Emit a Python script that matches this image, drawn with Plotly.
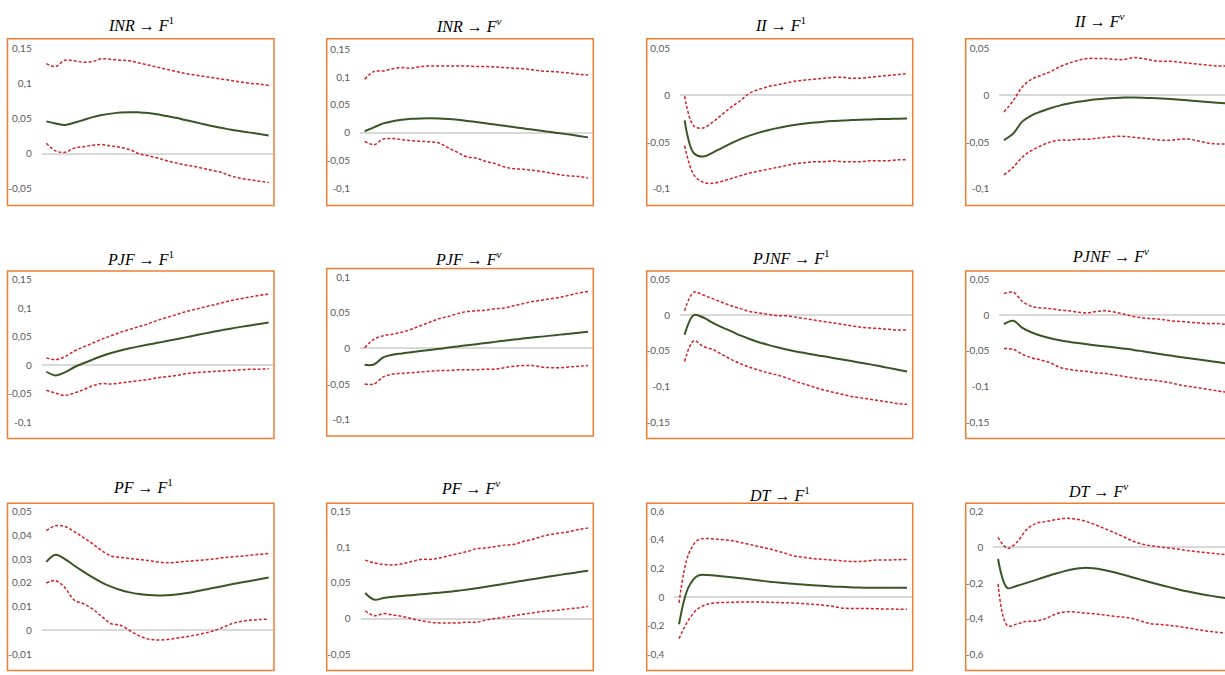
import plotly.graph_objects as go

W, H = 1225, 675
PERIODS = list(range(25))

# ---------------- data ----------------
INR_F1_MID = [0.046, 0.043, 0.041, 0.044, 0.048, 0.052, 0.055, 0.057, 0.0585, 0.059, 0.0588, 0.058, 0.056,
              0.0535, 0.051, 0.048, 0.045, 0.042, 0.039, 0.0365, 0.034, 0.032, 0.030, 0.028, 0.026]
INR_F1_UP = [0.128, 0.124, 0.133, 0.132, 0.130, 0.131, 0.135, 0.134, 0.133, 0.132, 0.129, 0.126, 0.123,
             0.120, 0.117, 0.114, 0.112, 0.110, 0.108, 0.106, 0.104, 0.102, 0.100, 0.099, 0.097]
INR_F1_LO = [0.015, 0.004, 0.002, 0.008, 0.010, 0.012, 0.013, 0.011, 0.009, 0.006, 0.000, -0.003, -0.006,
             -0.010, -0.013, -0.016, -0.018, -0.021, -0.024, -0.027, -0.032, -0.035, -0.037, -0.039, -0.041]

INR_FV_MID = [0.003, 0.010, 0.017, 0.021, 0.0235, 0.0252, 0.026, 0.0263, 0.026, 0.025, 0.0235, 0.0215, 0.0195,
              0.0173, 0.015, 0.0128, 0.0105, 0.0082, 0.006, 0.0038, 0.0015, -0.0007, -0.003, -0.0055, -0.008]
INR_FV_UP = [0.096, 0.110, 0.111, 0.115, 0.117, 0.116, 0.119, 0.120, 0.120, 0.120, 0.120, 0.120, 0.119,
             0.119, 0.118, 0.117, 0.116, 0.115, 0.113, 0.111, 0.110, 0.109, 0.107, 0.105, 0.104]
INR_FV_LO = [-0.015, -0.021, -0.011, -0.010, -0.012, -0.014, -0.015, -0.016, -0.018, -0.027, -0.035, -0.043,
             -0.045, -0.051, -0.055, -0.061, -0.064, -0.065, -0.067, -0.069, -0.072, -0.075, -0.077, -0.078, -0.081]

II_F1_MID = [-0.027, -0.062, -0.0655, -0.0615, -0.0565, -0.0515, -0.047, -0.0432, -0.040, -0.0374, -0.0352,
             -0.0333, -0.0317, -0.0303, -0.0292, -0.0283, -0.0276, -0.027, -0.0266, -0.0262, -0.0259, -0.0256,
             -0.0254, -0.0252, -0.025]
II_F1_UP = [-0.001, -0.033, -0.035, -0.029, -0.021, -0.013, -0.006, 0.002, 0.006, 0.009, 0.011, 0.013, 0.015,
            0.016, 0.017, 0.018, 0.019, 0.019, 0.018, 0.018, 0.019, 0.020, 0.021, 0.022, 0.023]
II_F1_LO = [-0.054, -0.085, -0.093, -0.094, -0.092, -0.089, -0.086, -0.083, -0.081, -0.079, -0.077, -0.075,
            -0.073, -0.072, -0.071, -0.071, -0.070, -0.071, -0.071, -0.071, -0.070, -0.070, -0.070, -0.069, -0.069]

II_FV_MID = [-0.048, -0.041, -0.028, -0.0215, -0.0175, -0.014, -0.0112, -0.009, -0.0072, -0.0057, -0.0045,
             -0.0036, -0.003, -0.0026, -0.0025, -0.0027, -0.0031, -0.0036, -0.0042, -0.0049, -0.0057, -0.0065,
             -0.0073, -0.0081, -0.0088]
II_FV_UP = [-0.018, -0.006, 0.009, 0.017, 0.021, 0.025, 0.030, 0.034, 0.037, 0.039, 0.039, 0.039, 0.038,
            0.038, 0.040, 0.039, 0.037, 0.036, 0.036, 0.035, 0.034, 0.033, 0.032, 0.031, 0.031]
II_FV_LO = [-0.085, -0.077, -0.066, -0.059, -0.054, -0.050, -0.048, -0.048, -0.047, -0.047, -0.046, -0.045,
            -0.044, -0.044, -0.045, -0.046, -0.047, -0.048, -0.048, -0.047, -0.047, -0.049, -0.051, -0.052, -0.052]

PJF_F1_MID = [-0.0114, -0.0178, -0.0125, -0.0035, 0.0035, 0.010, 0.0163, 0.0215, 0.026, 0.0298, 0.0332, 0.0364,
              0.0394, 0.0425, 0.0457, 0.049, 0.0523, 0.0556, 0.0588, 0.0618, 0.0648, 0.0675, 0.0701, 0.0726, 0.075]
PJF_F1_UP = [0.013, 0.010, 0.015, 0.025, 0.032, 0.039, 0.046, 0.052, 0.058, 0.063, 0.068, 0.073, 0.079,
             0.084, 0.089, 0.094, 0.098, 0.102, 0.106, 0.110, 0.114, 0.117, 0.120, 0.123, 0.125]
PJF_F1_LO = [-0.044, -0.049, -0.053, -0.049, -0.043, -0.036, -0.032, -0.033, -0.031, -0.029, -0.027, -0.025,
             -0.022, -0.020, -0.018, -0.015, -0.013, -0.012, -0.011, -0.010, -0.009, -0.008, -0.007, -0.007, -0.006]

PJF_FV_MID = [-0.023, -0.0225, -0.0125, -0.0088, -0.007, -0.0052, -0.0036, -0.002, -0.0005, 0.0013, 0.0029,
              0.0045, 0.0061, 0.0077, 0.0093, 0.011, 0.0125, 0.0139, 0.0153, 0.0167, 0.0181, 0.0195, 0.0208,
              0.0221, 0.0234]
PJF_FV_UP = [0.001, 0.013, 0.018, 0.020, 0.023, 0.027, 0.032, 0.037, 0.042, 0.045, 0.049, 0.052, 0.053,
             0.054, 0.056, 0.057, 0.060, 0.063, 0.066, 0.068, 0.070, 0.072, 0.075, 0.078, 0.080]
PJF_FV_LO = [-0.050, -0.050, -0.040, -0.036, -0.035, -0.034, -0.033, -0.032, -0.031, -0.031, -0.030, -0.030,
             -0.030, -0.029, -0.029, -0.027, -0.025, -0.024, -0.024, -0.026, -0.027, -0.027, -0.026, -0.025, -0.024]

PJNF_F1_MID = [-0.0275, 0.0, -0.0035, -0.0105, -0.017, -0.0225, -0.0285, -0.0335, -0.038, -0.0418, -0.0452,
               -0.0483, -0.051, -0.0533, -0.0556, -0.0578, -0.060, -0.0622, -0.0645, -0.0668, -0.0691, -0.0715,
               -0.074, -0.0765, -0.079]
PJNF_F1_UP = [0.006, 0.032, 0.028, 0.023, 0.018, 0.013, 0.009, 0.005, 0.003, 0.001, -0.001, -0.001, -0.003,
              -0.005, -0.007, -0.009, -0.011, -0.013, -0.015, -0.017, -0.018, -0.019, -0.020, -0.021, -0.021]
PJNF_F1_LO = [-0.065, -0.036, -0.044, -0.048, -0.055, -0.062, -0.068, -0.073, -0.077, -0.081, -0.084, -0.088,
              -0.093, -0.097, -0.101, -0.105, -0.108, -0.111, -0.114, -0.116, -0.118, -0.120, -0.122, -0.124, -0.125]

PJNF_FV_MID = [-0.0128, -0.008, -0.018, -0.0245, -0.029, -0.0325, -0.0352, -0.0374, -0.0393, -0.041, -0.0425,
               -0.044, -0.0455, -0.0471, -0.0488, -0.0508, -0.0528, -0.0549, -0.0568, -0.0587, -0.0605, -0.0623,
               -0.0641, -0.0659, -0.0677]
PJNF_FV_UP = [0.030, 0.032, 0.019, 0.012, 0.010, 0.009, 0.007, 0.006, 0.004, 0.003, 0.005, 0.006, 0.004,
              0.001, -0.002, -0.004, -0.005, -0.006, -0.008, -0.009, -0.010, -0.011, -0.012, -0.012, -0.013]
PJNF_FV_LO = [-0.047, -0.048, -0.055, -0.060, -0.063, -0.067, -0.073, -0.076, -0.078, -0.079, -0.081, -0.082,
              -0.084, -0.086, -0.088, -0.090, -0.091, -0.093, -0.095, -0.098, -0.100, -0.102, -0.104, -0.106, -0.108]

PF_F1_MID = [0.0288, 0.0318, 0.030, 0.0273, 0.0247, 0.0223, 0.0201, 0.0184, 0.017, 0.016, 0.0153, 0.0149,
             0.0147, 0.0148, 0.0151, 0.0156, 0.0163, 0.0171, 0.0178, 0.0186, 0.0194, 0.0201, 0.0208, 0.0215, 0.0222]
PF_F1_UP = [0.0419, 0.044, 0.0437, 0.0415, 0.039, 0.0364, 0.0335, 0.0313, 0.0307, 0.0302, 0.0298, 0.0294,
            0.0288, 0.0284, 0.0286, 0.029, 0.0293, 0.0296, 0.030, 0.0305, 0.0309, 0.0312, 0.0316, 0.032, 0.0323]
PF_F1_LO = [0.0199, 0.0209, 0.018, 0.0128, 0.0112, 0.009, 0.0058, 0.0028, 0.0022, 0.0, -0.0022, -0.0036,
            -0.004, -0.0038, -0.0033, -0.0027, -0.002, -0.0012, -0.0002, 0.0012, 0.0028, 0.0038, 0.0043, 0.0046, 0.0048]

PF_FV_MID = [0.036, 0.0265, 0.029, 0.0305, 0.0318, 0.0329, 0.034, 0.0352, 0.0364, 0.0377, 0.039, 0.0408,
             0.0427, 0.0446, 0.0467, 0.0488, 0.051, 0.0532, 0.0553, 0.0573, 0.0593, 0.0613, 0.0633, 0.0652, 0.067]
PF_FV_UP = [0.082, 0.078, 0.076, 0.075, 0.077, 0.080, 0.083, 0.083, 0.085, 0.088, 0.091, 0.094, 0.098,
            0.099, 0.101, 0.103, 0.104, 0.108, 0.111, 0.115, 0.118, 0.120, 0.122, 0.125, 0.127]
PF_FV_LO = [0.011, 0.004, 0.007, 0.005, 0.003, 0.000, -0.003, -0.005, -0.006, -0.006, -0.006, -0.005, -0.005,
            -0.002, 0.000, 0.002, 0.004, 0.006, 0.008, 0.010, 0.011, 0.012, 0.014, 0.015, 0.017]

DT_F1_MID = [-0.190, 0.070, 0.150, 0.155, 0.150, 0.143, 0.135, 0.128, 0.120, 0.112, 0.105, 0.099, 0.093,
             0.088, 0.083, 0.079, 0.075, 0.072, 0.069, 0.067, 0.066, 0.065, 0.065, 0.065, 0.065]
DT_F1_UP = [-0.040, 0.300, 0.400, 0.410, 0.405, 0.400, 0.390, 0.375, 0.360, 0.345, 0.330, 0.310, 0.290,
            0.280, 0.270, 0.265, 0.260, 0.255, 0.250, 0.250, 0.255, 0.260, 0.260, 0.262, 0.263]
DT_F1_LO = [-0.290, -0.160, -0.080, -0.050, -0.040, -0.037, -0.035, -0.034, -0.034, -0.035, -0.037, -0.039,
            -0.041, -0.045, -0.050, -0.055, -0.062, -0.075, -0.080, -0.080, -0.080, -0.082, -0.083, -0.084, -0.084]

DT_FV_MID = [-0.065, -0.228, -0.215, -0.199, -0.182, -0.165, -0.148, -0.133, -0.121, -0.115, -0.117, -0.125,
             -0.137, -0.151, -0.166, -0.181, -0.196, -0.210, -0.223, -0.236, -0.248, -0.259, -0.268, -0.277, -0.285]
DT_FV_UP = [0.057, -0.005, 0.030, 0.100, 0.135, 0.145, 0.155, 0.163, 0.160, 0.150, 0.132, 0.110, 0.088,
            0.065, 0.040, 0.020, 0.010, 0.003, -0.003, -0.010, -0.018, -0.025, -0.030, -0.036, -0.040]
DT_FV_LO = [-0.205, -0.440, -0.430, -0.415, -0.413, -0.400, -0.375, -0.362, -0.362, -0.368, -0.372, -0.378,
            -0.385, -0.390, -0.398, -0.412, -0.428, -0.432, -0.438, -0.444, -0.452, -0.462, -0.470, -0.476, -0.480]

TICKS_A = [-0.05, 0, 0.05, 0.1, 0.15]
TEXT_A = ["-0,05", "0", "0,05", "0,1", "0,15"]
TICKS_B = [-0.1, -0.05, 0, 0.05, 0.1, 0.15]
TEXT_B = ["-0,1", "-0,05", "0", "0,05", "0,1", "0,15"]
TICKS_C = [-0.1, -0.05, 0, 0.05]
TEXT_C = ["-0,1", "-0,05", "0", "0,05"]
TICKS_D = [-0.1, -0.05, 0, 0.05, 0.1]
TEXT_D = ["-0,1", "-0,05", "0", "0,05", "0,1"]
TICKS_E = [-0.15, -0.1, -0.05, 0, 0.05]
TEXT_E = ["-0,15", "-0,1", "-0,05", "0", "0,05"]
TICKS_F = [-0.01, 0, 0.01, 0.02, 0.03, 0.04, 0.05]
TEXT_F = ["-0,01", "0", "0,01", "0,02", "0,03", "0,04", "0,05"]
TICKS_G = [-0.4, -0.2, 0, 0.2, 0.4, 0.6]
TEXT_G = ["-0,4", "-0,2", "0", "0,2", "0,4", "0,6"]
TICKS_H = [-0.6, -0.4, -0.2, 0, 0.2]
TEXT_H = ["-0,6", "-0,4", "-0,2", "0", "0,2"]

TITLES = [
    "<i>INR</i> → <i>F</i><sup>1</sup>", "<i>INR</i> → <i>F<sup>v</sup></i>",
    "<i>II</i> → <i>F</i><sup>1</sup>", "<i>II</i> → <i>F<sup>v</sup></i>",
    "<i>PJF</i> → <i>F</i><sup>1</sup>", "<i>PJF</i> → <i>F<sup>v</sup></i>",
    "<i>PJNF</i> → <i>F</i><sup>1</sup>", "<i>PJNF</i> → <i>F<sup>v</sup></i>",
    "<i>PF</i> → <i>F</i><sup>1</sup>", "<i>PF</i> → <i>F<sup>v</sup></i>",
    "<i>DT</i> → <i>F</i><sup>1</sup>", "<i>DT</i> → <i>F<sup>v</sup></i>",
]

# ---------------- layout geometry (pixels) ----------------
# box = orange chart frame; plot = plot area; tpos = title centre
PANELS = [
    dict(mid=INR_F1_MID, up=INR_F1_UP, lo=INR_F1_LO, tv=TICKS_A, tt=TEXT_A,
         box=(7.5, 32.3, 274, 202.3), plot=(41.7, 42, 273.3, 185.5), tpos=(140.7, 20)),
    dict(mid=INR_FV_MID, up=INR_FV_UP, lo=INR_FV_LO, tv=TICKS_B, tt=TEXT_B,
         box=(326.7, 32.3, 593.3, 202.3), plot=(360, 43, 592.7, 185.3), tpos=(468.5, 21)),
    dict(mid=II_F1_MID, up=II_F1_UP, lo=II_F1_LO, tv=TICKS_C, tt=TEXT_C,
         box=(646.7, 32.3, 912.7, 202.3), plot=(680, 42, 911.7, 185.5), tpos=(780.5, 20)),
    dict(mid=II_FV_MID, up=II_FV_UP, lo=II_FV_LO, tv=TICKS_C, tt=TEXT_C,
         box=(965.7, 32.3, 1232, 202.3), plot=(999.3, 42, 1231, 185.5), tpos=(1099, 16)),
    dict(mid=PJF_F1_MID, up=PJF_F1_UP, lo=PJF_F1_LO, tv=TICKS_B, tt=TEXT_B,
         box=(7.5, 269.3, 274, 440), plot=(41.7, 278.3, 273.3, 423.3), tpos=(140.8, 258.3)),
    dict(mid=PJF_FV_MID, up=PJF_FV_UP, lo=PJF_FV_LO, tv=TICKS_D, tt=TEXT_D,
         box=(326.7, 266.7, 593.3, 437.3), plot=(360, 275.7, 592.7, 420.7), tpos=(467.5, 258.3)),
    dict(mid=PJNF_F1_MID, up=PJNF_F1_UP, lo=PJNF_F1_LO, tv=TICKS_E, tt=TEXT_E,
         box=(646.7, 269.3, 912.7, 440), plot=(680, 277.7, 911.7, 423.3), tpos=(790.8, 257.3)),
    dict(mid=PJNF_FV_MID, up=PJNF_FV_UP, lo=PJNF_FV_LO, tv=TICKS_E, tt=TEXT_E,
         box=(965.7, 269.3, 1232, 440), plot=(999.3, 277.7, 1231, 423.3), tpos=(1110, 255)),
    dict(mid=PF_F1_MID, up=PF_F1_UP, lo=PF_F1_LO, tv=TICKS_F, tt=TEXT_F,
         box=(7.5, 506, 274, 676.5), plot=(41.7, 514.3, 273.3, 660), tpos=(142.5, 490.7)),
    dict(mid=PF_FV_MID, up=PF_FV_UP, lo=PF_FV_LO, tv=TICKS_A, tt=TEXT_A,
         box=(326.7, 506, 593.3, 676.5), plot=(360.5, 514.5, 592.7, 660), tpos=(470, 491.7)),
    dict(mid=DT_F1_MID, up=DT_F1_UP, lo=DT_F1_LO, tv=TICKS_G, tt=TEXT_G,
         box=(646.7, 506, 912.7, 676.5), plot=(674.3, 514.3, 911.7, 660), tpos=(779.2, 499)),
    dict(mid=DT_FV_MID, up=DT_FV_UP, lo=DT_FV_LO, tv=TICKS_H, tt=TEXT_H,
         box=(965.7, 506, 1232, 676.5), plot=(993.3, 514.7, 1231, 660), tpos=(1097.5, 495)),
]

GREEN = "#375623"
RED = "#D61F26"
ORANGE = "#ED7D31"
TICK_FONT = dict(family="Lato, Liberation Sans, sans-serif", size=10, color="#595959")
TITLE_FONT = dict(family="Liberation Serif, DejaVu Serif, serif", size=16, color="#000000")
SUP_SHIFT = 2.5  # the superscript enlarges the text box upwards

fig = go.Figure()
layout = dict(width=W, height=H, margin=dict(l=0, r=0, t=0, b=0), autosize=False,
              paper_bgcolor="white", plot_bgcolor="rgba(0,0,0,0)", showlegend=False,
              shapes=[], annotations=[])

n = len(PERIODS)
for i, p in enumerate(PANELS, start=1):
    sx = "" if i == 1 else str(i)
    x0, y0, x1, y1 = p["plot"]
    vis_x1 = min(x1, W)
    # visible part of the category axis (the last column runs past the page edge)
    xr_end = -0.5 + n * (vis_x1 - x0) / (x1 - x0)
    layout["xaxis" + sx] = dict(domain=[x0 / W, vis_x1 / W], anchor="y" + sx, range=[-0.5, xr_end],
                                showticklabels=False, showgrid=False, zeroline=False, showline=False,
                                ticks="", fixedrange=True)
    layout["yaxis" + sx] = dict(domain=[1 - y1 / H, 1 - y0 / H], anchor="x" + sx,
                                range=[min(p["tv"]), max(p["tv"])], tickmode="array",
                                tickvals=p["tv"], ticktext=p["tt"], tickfont=TICK_FONT,
                                showgrid=False, showline=False, ticks="", ticklabelstandoff=9,
                                zeroline=True, zerolinecolor="#D9D9D9", zerolinewidth=1.5,
                                fixedrange=True)
    for key, color, width, dash in (("up", RED, 1.5, "3px,2px"), ("lo", RED, 1.5, "3px,2px"),
                                    ("mid", GREEN, 2, "solid")):
        fig.add_trace(go.Scatter(x=PERIODS, y=p[key], mode="lines", xaxis="x" + sx, yaxis="y" + sx,
                                 line=dict(color=color, width=width, dash=dash, shape="spline", smoothing=1),
                                 hoverinfo="skip"))
    bx0, by0, bx1, by1 = p["box"]
    layout["shapes"].append(dict(type="rect", xref="paper", yref="paper",
                                 x0=bx0 / W, x1=bx1 / W, y0=1 - by1 / H, y1=1 - by0 / H,
                                 line=dict(color=ORANGE, width=1.5), fillcolor="rgba(0,0,0,0)"))
    tx, ty = p["tpos"]
    layout["annotations"].append(dict(text=TITLES[i - 1], xref="paper", yref="paper",
                                      x=tx / W, y=1 - (ty - SUP_SHIFT) / H, xanchor="center",
                                      yanchor="middle", showarrow=False, font=TITLE_FONT))

fig.update_layout(**layout)
fig.write_html("out.html")
